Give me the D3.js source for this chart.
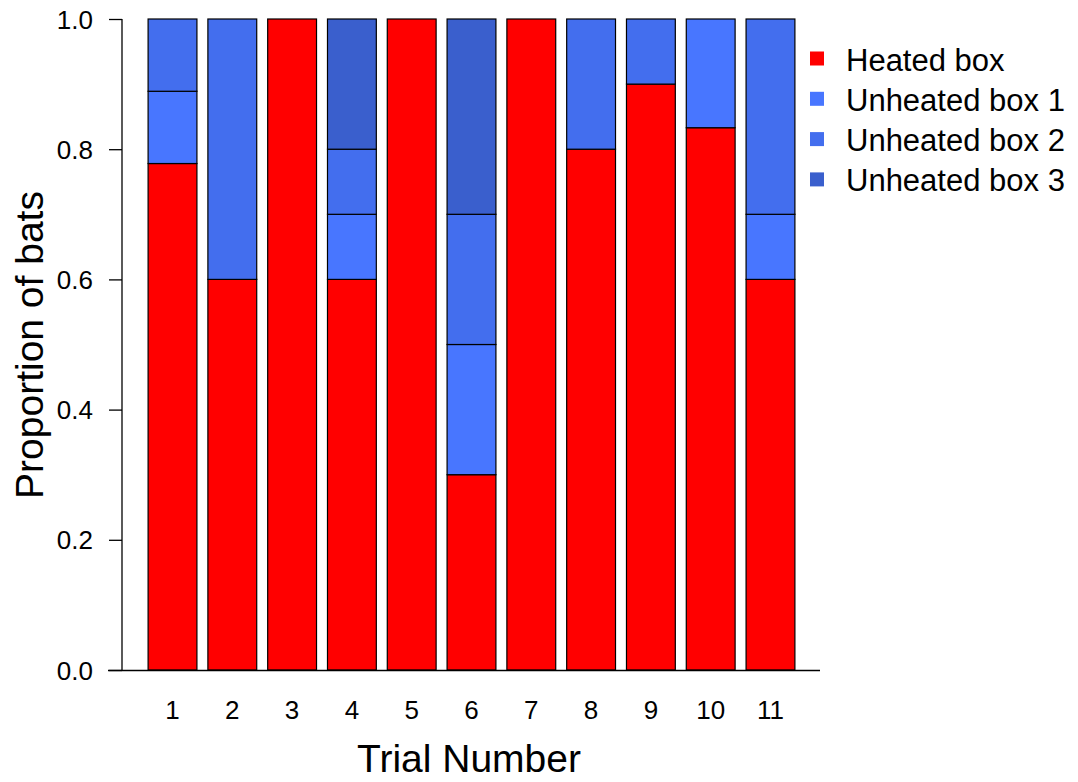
<!DOCTYPE html>
<html><head><meta charset="utf-8">
<script src="https://cdn.jsdelivr.net/npm/d3@7"></script>
<style>body{margin:0;background:#fff}svg{display:block}text{font-family:"Liberation Sans",Arial,sans-serif;fill:#000}</style>
</head><body><svg id="c" width="1078" height="782"></svg>
<script>
const trials = ["1","2","3","4","5","6","7","8","9","10","11"];
const heated    = [0.778,0.6,1,0.6,1,0.3,1,0.8,0.9,0.833,0.6];
const unheated1 = [0.111,0,0,0.1,0,0.2,0,0,0,0.167,0.1];
const unheated2 = [0.111,0.4,0,0.1,0,0.2,0,0.2,0.1,0,0.3];
const unheated3 = [0,0,0,0.2,0,0.3,0,0,0,0,0];
const seriesNames = ["Heated box","Unheated box 1","Unheated box 2","Unheated box 3"];
const colors = ["#FF0000","#4876FF","#436EEE","#3A5FCD"];
const yTicks = [0,0.2,0.4,0.6,0.8,1.0];

const keys = ["h","u1","u2","u3"];
const rows = trials.map((t,i)=>({trial:t,h:heated[i],u1:unheated1[i],u2:unheated2[i],u3:unheated3[i]}));
const stacked = d3.stack().keys(keys)(rows);

const svg = d3.select("#c");
const L=122, R=821, T=19, B=670;
const x = d3.scaleBand().domain(trials).range([L,R]).paddingInner(1/6).paddingOuter(0.428);
const y = d3.scaleLinear().domain([0,1]).range([B,T]);
const FONT = "Liberation Sans, Arial, sans-serif";

// bars
stacked.forEach((s,k)=>{
  svg.append("g").attr("fill",colors[k]).selectAll("rect")
    .data(s.filter(d=>d[1]-d[0]>1e-9)).join("rect")
    .attr("x",d=>x(d.data.trial)+0.5).attr("width",x.bandwidth()-1)
    .attr("y",d=>y(d[1])).attr("height",d=>y(d[0])-y(d[1]))
    .attr("stroke","#000").attr("stroke-width",1.2);
});

// bottom line
svg.append("line").attr("x1",108).attr("x2",820).attr("y1",B+0.5).attr("y2",B+0.5).attr("stroke","#000").attr("stroke-width",1.3);

// y axis
const ya = svg.append("g").attr("transform",`translate(${L},0)`)
  .call(d3.axisLeft(y).tickValues(yTicks).tickFormat(d3.format(".1f")).tickSize(13).tickPadding(16));
ya.select(".domain").attr("stroke","#000").attr("stroke-width",1.3).attr("d",`M0,${y(1)}V${y(0)}`);
ya.selectAll(".tick line").attr("stroke","#000").attr("stroke-width",1.3);
ya.selectAll(".tick text").attr("font-size",26).attr("font-family",FONT).attr("fill","#000").attr("dy","0.35em");

// x labels
const xa = svg.append("g").attr("transform",`translate(0,${B})`)
  .call(d3.axisBottom(x).tickSize(0).tickPadding(0));
xa.select(".domain").remove();
xa.selectAll(".tick text").attr("font-size",26).attr("font-family",FONT).attr("fill","#000").attr("dy",null).attr("y",49);

// titles
svg.append("text").attr("x",469).attr("y",772).attr("text-anchor","middle").attr("font-size",39).text("Trial Number");
svg.append("text").attr("transform","translate(43,345) rotate(-90)").attr("text-anchor","middle").attr("font-size",39).text("Proportion of bats");

// legend
const lg = svg.append("g");
seriesNames.forEach((n,i)=>{
  const cy = 58.5 + i*40.3;
  lg.append("rect").attr("x",810).attr("y",cy-7).attr("width",14).attr("height",14).attr("fill",colors[i]);
  lg.append("text").attr("x",846).attr("y",cy+12).attr("font-size",31).text(n);
});
</script></body></html>
